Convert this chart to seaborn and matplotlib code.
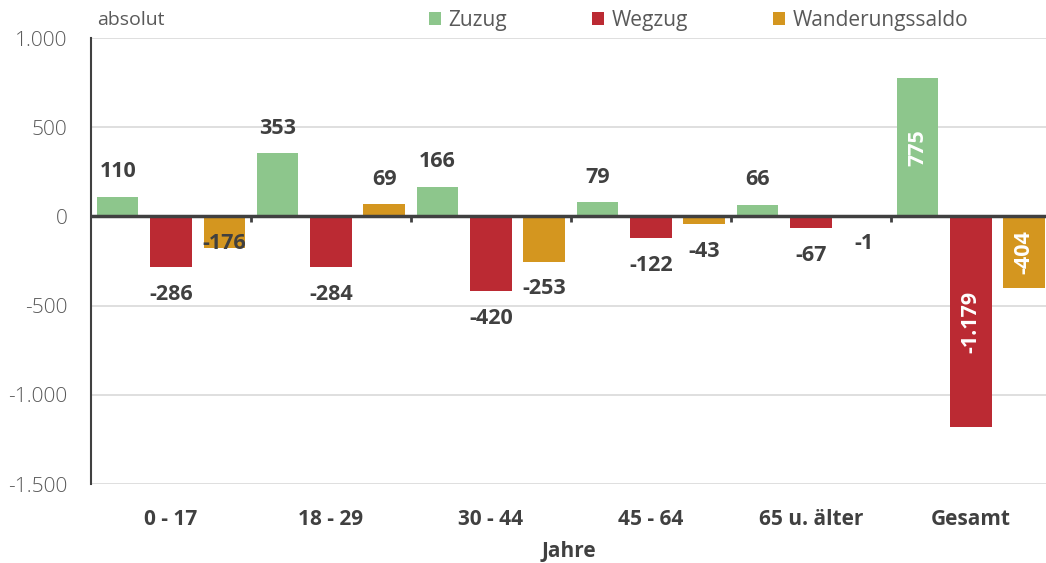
import numpy as np
import pandas as pd
import seaborn as sns
import matplotlib.pyplot as plt
from matplotlib.ticker import FuncFormatter

categories = ["0 - 17", "18 - 29", "30 - 44", "45 - 64", "65 u. älter", "Gesamt"]
series = ["Zuzug", "Wegzug", "Wanderungssaldo"]
zuzug = [110, 353, 166, 79, 66, 775]
wegzug = [-286, -284, -420, -122, -67, -1179]
saldo = [-176, 69, -253, -43, -1, -404]
yticks = [1000, 500, 0, -500, -1000, -1500]

colors = ["#8dc68c", "#bb2a33", "#d4961f"]

df = pd.DataFrame({
    "Jahre": categories * 3,
    "Wert": zuzug + wegzug + saldo,
    "Serie": [s for s in series for _ in categories],
})

def de_fmt(v):
    return f"{v:,.0f}".replace(",", ".")

sns.set_style("white")
plt.rcParams["font.family"] = ["Open Sans", "DejaVu Sans"]

fig = plt.figure(figsize=(10.46, 5.63), dpi=100)
ax = fig.add_axes([91 / 1046, 1 - 484 / 563, 1 - 91 / 1046, (484 - 38) / 563])

sns.barplot(data=df, x="Jahre", y="Wert", hue="Serie", palette=colors,
            width=1.0, gap=0.22, saturation=1, edgecolor="none", ax=ax, legend=True)

ax.set_ylim(-1500, 1000)
ax.set_xlim(-0.5, 5.47)
ax.set_yticks(yticks)
ax.yaxis.set_major_formatter(FuncFormatter(lambda v, p: de_fmt(v)))
ax.grid(axis="y", color="#d9d9d9", linewidth=1.2)
ax.set_axisbelow(True)
for s in ["top", "right", "bottom"]:
    ax.spines[s].set_visible(False)
ax.spines["left"].set_color("#404040")
ax.spines["left"].set_linewidth(1.5)
ax.tick_params(axis="y", length=5, width=1.5, color="#404040", pad=12,
               labelsize=15, labelcolor="#595959")
ax.tick_params(axis="x", length=0, pad=18)
for lab in ax.get_yticklabels():
    lab.set_fontweight("light")
for lab in ax.get_xticklabels():
    lab.set_fontweight("bold")
    lab.set_fontsize(15)
    lab.set_color("#404040")
ax.set_xlabel("Jahre", fontsize=15, fontweight="bold", color="#404040", labelpad=8)
ax.set_ylabel("")

# zero line and group separators
ax.axhline(0, color="#404040", linewidth=2.5, zorder=3)
ax.vlines(np.arange(len(categories) - 1) + 0.5, -30, 0, color="#404040", linewidth=2, zorder=3)

# data labels
px_per_unit = ax.get_window_extent().height / 2500
for cont, vals in zip(ax.containers, [zuzug, wegzug, saldo]):
    for i, (bar, v) in enumerate(zip(cont, vals)):
        xc = bar.get_x() + bar.get_width() / 2
        txt = de_fmt(v)
        if categories[i] == "Gesamt":
            ax.text(xc, v / 2, txt, rotation=90, ha="center", va="center",
                    color="white", fontsize=15.5, fontweight="bold")
        elif v >= 0:
            ax.text(xc, v + 25 / px_per_unit, txt, ha="center", va="center",
                    color="#404040", fontsize=15.5, fontweight="bold")
        else:
            y = min(v - 27 / px_per_unit, -27 / px_per_unit)
            if v == -176:
                y = -27 / px_per_unit
            ax.text(xc, y, txt, ha="center", va="center",
                    color="#404040", fontsize=15.5, fontweight="bold")

handles, labels = ax.get_legend_handles_labels()
ax.legend(handles, labels, loc="center left", bbox_to_anchor=((429 - 91) / (1046 - 91), 1.0 + 18 / 446),
          bbox_transform=ax.transAxes, ncol=3, frameon=False, fontsize=15,
          handlelength=0.58, handleheight=0.58, handletextpad=0.34, columnspacing=4.1,
          labelcolor="#595959", borderaxespad=0, borderpad=0)
for h in ax.get_legend().legend_handles:
    h.set_edgecolor("none")

fig.text(97 / 1046, 1 - 20 / 563, "absolut", fontsize=14, color="#595959", va="center")

fig.savefig("out.png", dpi=100)
